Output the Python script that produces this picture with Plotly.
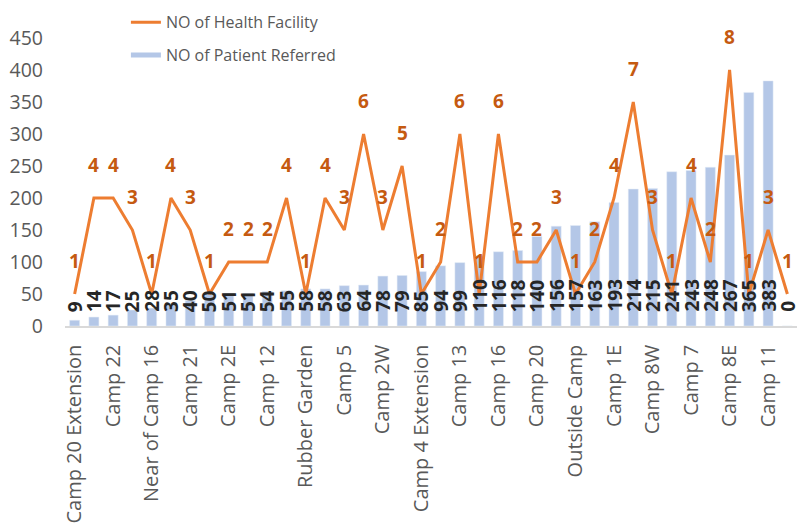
import plotly.graph_objects as go

tick_labels = ["Camp 20 Extension", "Camp 22", "Near of Camp 16", "Camp 21", "Camp 2E",
               "Camp 12", "Rubber Garden", "Camp 5", "Camp 2W", "Camp 4 Extension",
               "Camp 13", "Camp 16", "Camp 20", "Outside Camp", "Camp 1E", "Camp 8W",
               "Camp 7", "Camp 8E", "Camp 11"]

patients_referred = [9, 14, 17, 25, 28, 35, 40, 50, 51, 51, 54, 55, 58, 58, 63, 64, 78, 79,
                     85, 94, 99, 110, 116, 118, 140, 156, 157, 163, 193, 214, 215, 241, 243,
                     248, 267, 365, 383, 0]

health_facilities = [1, 4, 4, 3, 1, 4, 3, 1, 2, 2, 2, 4, 1, 4, 3, 6, 3, 5, 1, 2, 6, 1, 6, 2,
                     2, 3, 1, 2, 4, 7, 3, 1, 4, 2, 8, 1, 3, 1]

positions = list(range(len(patients_referred)))
tick_positions = positions[::2]

FONT = "Open Sans"
BAR_COLOR = "#B4C7E7"
LINE_COLOR = "#ED7D31"
LABEL_COLOR = "#C55A11"
TEXT_GRAY = "#595959"

fig = go.Figure()

fig.add_trace(go.Bar(
    x=positions, y=patients_referred, marker_color=BAR_COLOR,
    name="NO of Patient Referred", showlegend=False, yaxis="y",
))
fig.add_trace(go.Scatter(
    x=positions, y=health_facilities, mode="lines",
    line=dict(color=LINE_COLOR, width=3), name="NO of Health Facility",
    yaxis="y2", legendrank=1, legendgroup="a",
))
# legend entry for the bars drawn as a line, like the reference
fig.add_trace(go.Scatter(
    x=[None], y=[None], mode="lines", line=dict(color=BAR_COLOR, width=5),
    name="NO of Patient Referred", yaxis="y2", legendrank=2, legendgroup="b",
))

annotations = []
for xi, v in zip(positions, patients_referred):
    annotations.append(dict(
        x=xi, y=0, xref="x", yref="y", text=f"<b>{v}</b>", showarrow=False,
        textangle=-90, yanchor="bottom", xanchor="center", yshift=12,
        font=dict(family=FONT, size=19, color="#262626"),
    ))
for xi, v in zip(positions, health_facilities):
    annotations.append(dict(
        x=xi, y=v, xref="x", yref="y2", text=f"<b>{v}</b>", showarrow=False,
        yanchor="bottom", xanchor="center", yshift=18,
        font=dict(family=FONT, size=19, color=LABEL_COLOR),
    ))

fig.update_layout(
    width=802, height=527,
    margin=dict(l=65, r=5, t=38, b=201, autoexpand=False),
    paper_bgcolor="white", plot_bgcolor="white",
    font=dict(family=FONT, color=TEXT_GRAY),
    bargap=0.48,
    xaxis=dict(
        range=[-0.5, len(positions) - 0.5], tickmode="array",
        tickvals=tick_positions, ticktext=tick_labels, tickangle=-90,
        tickfont=dict(size=20, color=TEXT_GRAY), showgrid=False, zeroline=False,
        showline=True, linecolor="#D9D9D9", linewidth=1.5, ticks="",
        ticklabelstandoff=9, automargin=False,
    ),
    yaxis=dict(
        range=[0, 450], dtick=50, showgrid=False, zeroline=False, showline=False,
        tickfont=dict(size=19.5, color=TEXT_GRAY), ticks="", ticklabelstandoff=21,
        automargin=False,
    ),
    yaxis2=dict(range=[0, 9], overlaying="y", visible=False),
    legend=dict(
        xref="container", yref="container", x=0.157, y=0.99,
        xanchor="left", yanchor="top", font=dict(size=16, color=TEXT_GRAY),
        bgcolor="rgba(0,0,0,0)", tracegroupgap=9,
    ),
    annotations=annotations,
)

fig.write_html("out.html", config={"displayModeBar": False},
               post_script="document.body.style.margin='0px';")
